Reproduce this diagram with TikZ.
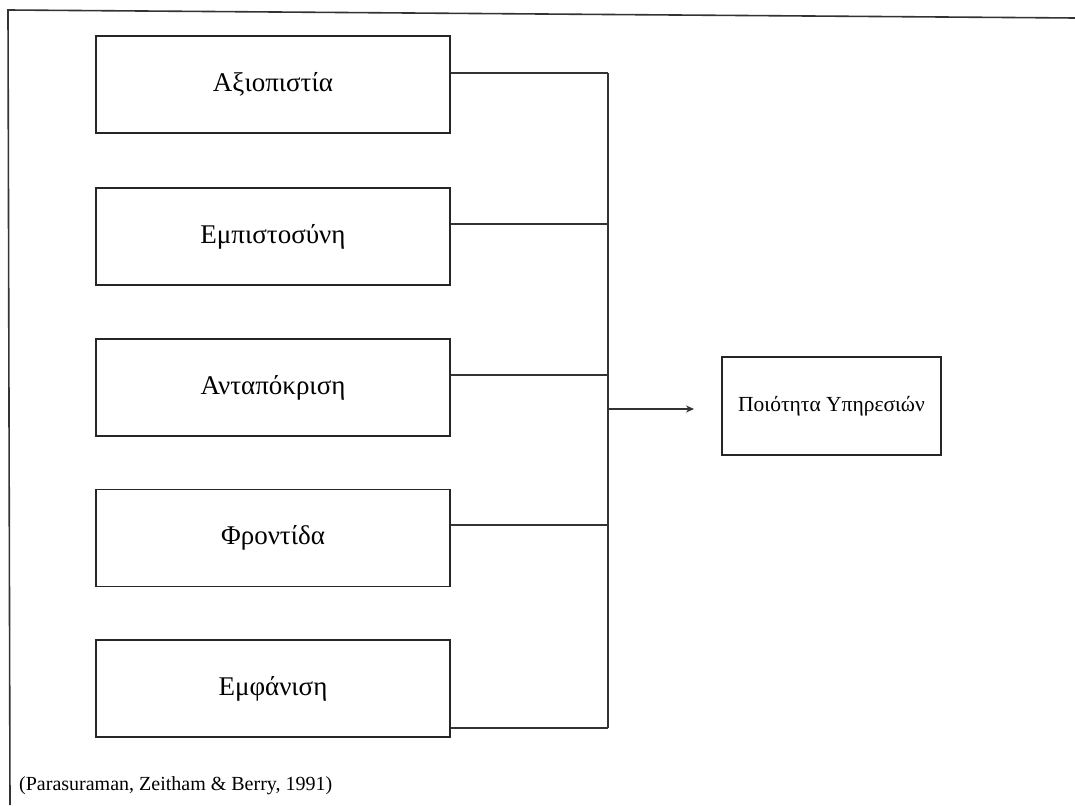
\documentclass[tikz,border=0pt]{standalone}
\usepackage{fontspec}
\setmainfont{Liberation Serif}
\usetikzlibrary{arrows.meta}
\begin{document}
\begin{tikzpicture}[x=1pt,y=-1pt,
  factor/.style={draw=black!85, line width=1.3pt, minimum width=354pt, minimum height=97pt,
    inner sep=0pt, font=\fontsize{27}{32}\selectfont},
  result/.style={draw=black!85, line width=1.3pt, minimum width=219pt, minimum height=98pt,
    inner sep=0pt, font=\fontsize{21.5}{26}\selectfont},
  link/.style={draw=black!80, line width=1.3pt},
  frameline/.style={draw=black!80, line width=1.6pt}]
  \useasboundingbox (0,0) rectangle (1075,805);

  % open frame: left and top edges only
  \coordinate (fbl) at (10,805);
  \coordinate (ftl) at (8,10);
  \coordinate (ftr) at (1075,18);
  \draw[frameline] (fbl) -- (ftl) -- (ftr);

  % the five dimensions
  \node[factor] (b1) at (273,84.5)  {Αξιοπιστία};
  \node[factor] (b2) at (273,236.5) {Εμπιστοσύνη};
  \node[factor] (b3) at (273,387.5) {Ανταπόκριση};
  \node[factor] (b4) at (273,538)   {Φροντίδα};
  \node[factor] (b5) at (273,688.5) {Εμφάνιση};

  % outcome
  \node[result] (q) at (831.5,406) {Ποιότητα Υπηρεσιών};

  % junction points on the collecting line
  \coordinate (j1) at (608,73);
  \coordinate (j2) at (608,224);
  \coordinate (j3) at (608,375);
  \coordinate (j4) at (608,525);
  \coordinate (j5) at (608,728);
  \coordinate (jm) at (608,409);
  \coordinate (tip) at (694,409);

  \draw[link] (b1.east |- j1) -- (j1);
  \draw[link] (b2.east |- j2) -- (j2);
  \draw[link] (b3.east |- j3) -- (j3);
  \draw[link] (b4.east |- j4) -- (j4);
  \draw[link] (b5.east |- j5) -- (j5);
  \draw[link] (j1) -- (j5);
  \draw[link, -{Stealth[length=8pt,width=7pt]}] (jm) -- (tip);

  % source
  \node[anchor=base west, inner sep=0pt, font=\fontsize{20}{24}\selectfont] (src) at (19,790)
    {(Parasuraman, Zeitham \& Berry, 1991)};
\end{tikzpicture}
\end{document}
